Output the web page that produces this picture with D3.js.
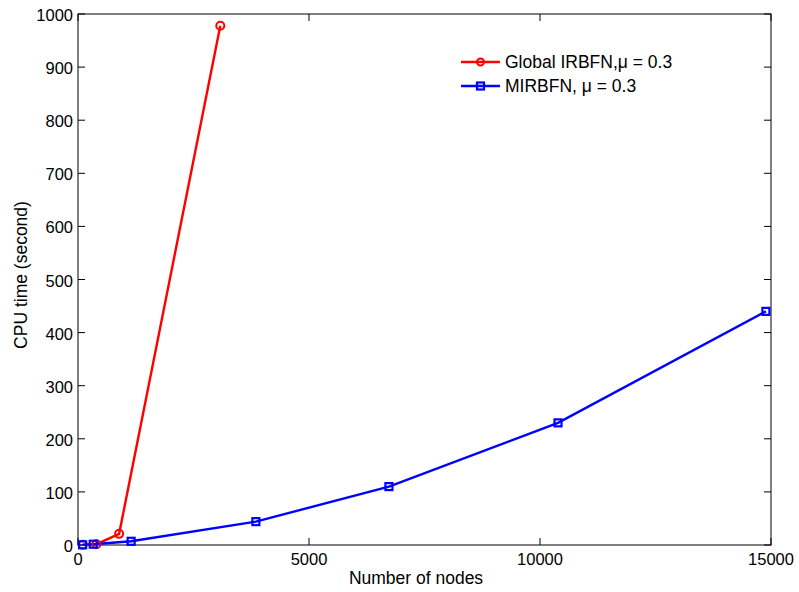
<!DOCTYPE html>
<html><head><meta charset="utf-8">
<script src="https://cdn.jsdelivr.net/npm/d3@7"></script>
<style>body{margin:0;background:#fff;} text{font-family:"Liberation Sans",Arial,sans-serif;}</style>
</head><body><svg id="c" width="799" height="592"></svg>
<script>
const redX = [100, 400, 890, 3080];
const redY = [0.5, 1.5, 21, 978];
const blueX = [100, 330, 1150, 3850, 6730, 10390, 14890];
const blueY = [0.3, 1.5, 7, 44, 110, 230, 440];
const xTicks = [0, 5000, 10000, 15000];
const yTicks = [0,100,200,300,400,500,600,700,800,900,1000];
const legendLabels = ["Global IRBFN,\u03bc = 0.3", "MIRBFN, \u03bc = 0.3"];

const svg = d3.select("#c");
const L=78, R=771, T=14, B=545;
const x = d3.scaleLinear().domain([0,15000]).range([L,R]);
const y = d3.scaleLinear().domain([0,1000]).range([B,T]);
const tl = 7;
const g = svg.append("g");
g.append("rect").attr("x",L).attr("y",T).attr("width",R-L).attr("height",B-T).attr("fill","none").attr("stroke","#000").attr("stroke-width",1);
xTicks.forEach(v=>{
  g.append("line").attr("x1",x(v)).attr("x2",x(v)).attr("y1",B).attr("y2",B-tl).attr("stroke","#000");
  g.append("line").attr("x1",x(v)).attr("x2",x(v)).attr("y1",T).attr("y2",T+tl).attr("stroke","#000");
  g.append("text").attr("x",x(v)).attr("y",565).attr("text-anchor","middle").attr("font-size",16.5).text(v);
});
yTicks.forEach(v=>{
  g.append("line").attr("x1",L).attr("x2",L+tl).attr("y1",y(v)).attr("y2",y(v)).attr("stroke","#000");
  g.append("line").attr("x1",R).attr("x2",R-tl).attr("y1",y(v)).attr("y2",y(v)).attr("stroke","#000");
  g.append("text").attr("x",L-5).attr("y",y(v)+7).attr("text-anchor","end").attr("font-size",16.5).text(v);
});
g.append("text").attr("x",416).attr("y",584).attr("text-anchor","middle").attr("font-size",17.5).text("Number of nodes");
g.append("text").attr("transform",`translate(27,275) rotate(-90)`).attr("text-anchor","middle").attr("font-size",17.5).text("CPU time (second)");

const line = d3.line().x(d=>x(d[0])).y(d=>y(d[1]));
const red = redX.map((v,i)=>[v,redY[i]]);
const blue = blueX.map((v,i)=>[v,blueY[i]]);
g.append("path").attr("d",line(red)).attr("fill","none").attr("stroke","#ff0000").attr("stroke-width",2.4);
g.append("path").attr("d",line(blue)).attr("fill","none").attr("stroke","#0000ff").attr("stroke-width",2.4);
red.forEach(d=>g.append("circle").attr("cx",x(d[0])).attr("cy",y(d[1])).attr("r",4).attr("fill","none").attr("stroke","#ff0000").attr("stroke-width",2));
blue.forEach(d=>g.append("rect").attr("x",x(d[0])-3.5).attr("y",y(d[1])-3.5).attr("width",7).attr("height",7).attr("fill","none").attr("stroke","#0000ff").attr("stroke-width",2.2));

const ly=[62,86];
const colors=["#ff0000","#0000ff"];
ly.forEach((yy,i)=>{
  g.append("line").attr("x1",461).attr("x2",500).attr("y1",yy).attr("y2",yy).attr("stroke",colors[i]).attr("stroke-width",2.4);
  if(i===0) g.append("circle").attr("cx",480.5).attr("cy",yy).attr("r",3.5).attr("fill","none").attr("stroke",colors[i]).attr("stroke-width",2);
  else g.append("rect").attr("x",477).attr("y",yy-3.5).attr("width",7).attr("height",7).attr("fill","none").attr("stroke",colors[i]).attr("stroke-width",2.2);
  g.append("text").attr("x",505).attr("y",yy+5.5).attr("font-size",17.5).text(legendLabels[i]);
});
</script></body></html>
